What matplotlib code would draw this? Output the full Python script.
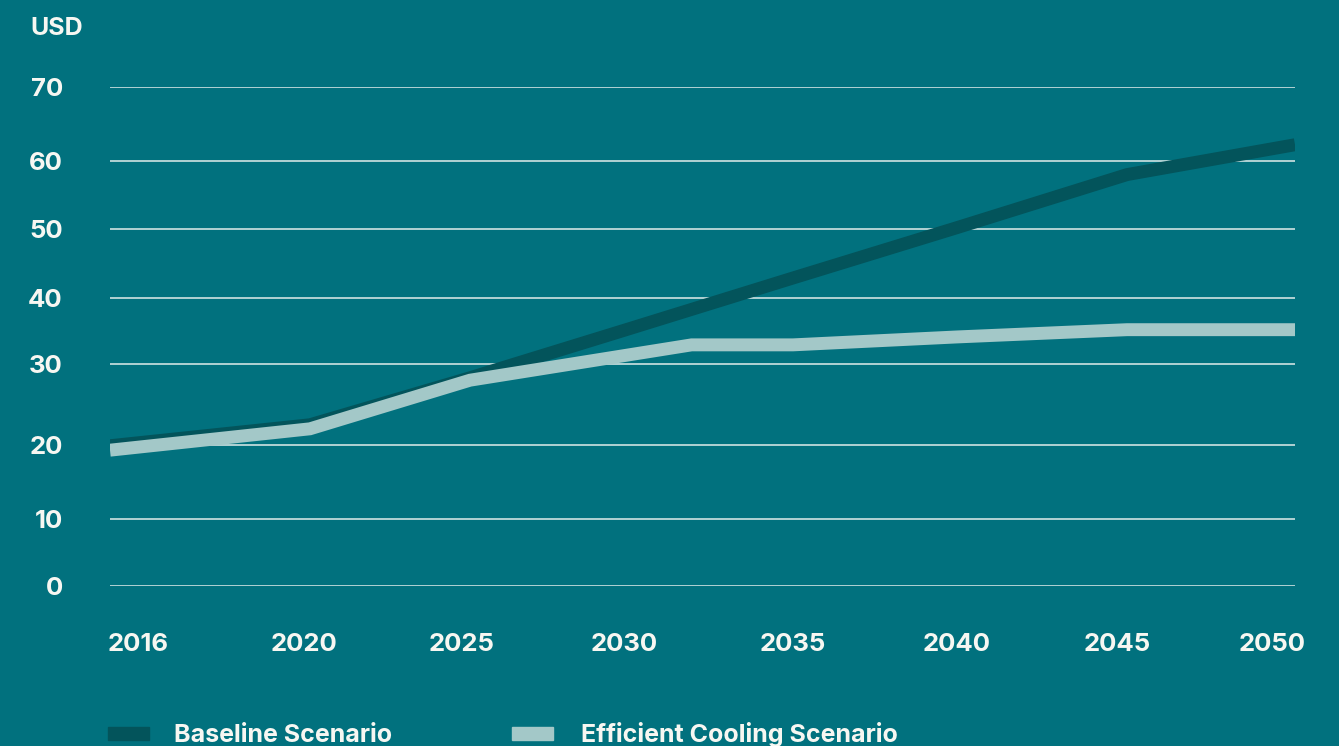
import matplotlib.pyplot as plt
import matplotlib.transforms as mtransforms
import numpy as np
from matplotlib.patches import Rectangle

# Data
tick_years = [2016, 2020, 2025, 2030, 2035, 2040, 2045, 2050]
tick_labels = [str(y) for y in tick_years]
usd_ticks = [0, 10, 20, 30, 40, 50, 60, 70]

baseline_years = [2016, 2020, 2025, 2030, 2035, 2040, 2045, 2050]
baseline_usd = [19.9, 22.5, 28.3, 35.1, 42.9, 50.2, 58.0, 62.2]

efficient_years = [2016, 2020, 2025, 2032, 2035, 2040, 2045, 2050]
efficient_usd = [19.3, 22.0, 28.0, 32.9, 32.9, 34.1, 35.2, 35.2]

series_names = ['Baseline Scenario', 'Efficient Cooling Scenario']

# Colours
BG = '#01717e'
DARK = '#03545b'
LIGHT = '#a3c8c8'
GRID = '#cfe2e2'
TXT = '#f7f7f2'

# the original axes are not evenly spaced, so warp them to match
x_knots_px = [0, 200, 360, 514, 683, 847, 1017, 1185]
y_knots_px = [0, 67, 141, 222, 288, 357, 425, 499]
# small nudges (px) so the year labels sit where the original has them
x_label_nudge = [-2, -6, -8, 0, 0, 0, -10, 11]


def warp(src, dst):
    src = np.asarray(src, float)
    dst = np.asarray(dst, float)
    s0 = (dst[1] - dst[0]) / (src[1] - src[0])
    s1 = (dst[-1] - dst[-2]) / (src[-1] - src[-2])

    def f(v):
        v = np.asarray(v, float)
        out = np.interp(v, src, dst)
        out = np.where(v < src[0], dst[0] + (v - src[0]) * s0, out)
        out = np.where(v > src[-1], dst[-1] + (v - src[-1]) * s1, out)
        return out
    return f


W, H = 1339, 746
plt.rcParams['font.family'] = ['Inter', 'DejaVu Sans']
plt.rcParams['font.weight'] = 'bold'

fig = plt.figure(figsize=(W / 100, H / 100), dpi=100, facecolor=BG)
ax = fig.add_axes([110 / W, (H - 586) / H, (1295 - 110) / W, (586 - 87) / H])
ax.set_facecolor(BG)

ax.set_xscale('function', functions=(warp(tick_years, x_knots_px),
                                     warp(x_knots_px, tick_years)))
ax.set_yscale('function', functions=(warp(usd_ticks, y_knots_px),
                                     warp(y_knots_px, usd_ticks)))

ax.plot(baseline_years, baseline_usd, color=DARK, lw=9.3,
        solid_capstyle='butt', solid_joinstyle='miter', zorder=3)
ax.plot(efficient_years, efficient_usd, color=LIGHT, lw=9.3,
        solid_capstyle='butt', solid_joinstyle='miter', zorder=4)

ax.set_xlim(2016, 2050)
ax.set_ylim(0, 70)
ax.set_xticks(tick_years)
ax.set_xticklabels(tick_labels)
ax.set_yticks(usd_ticks)
ax.set_yticklabels([str(v) for v in usd_ticks])
ax.xaxis.set_minor_locator(plt.NullLocator())
ax.yaxis.set_minor_locator(plt.NullLocator())

ax.tick_params(axis='both', length=0, colors=TXT, labelsize=18.5)
ax.tick_params(axis='y', pad=34)
ax.tick_params(axis='x', pad=34)

xl = ax.get_xticklabels()
xl[0].set_ha('left')
xl[-1].set_ha('right')
for lab, dx in zip(xl, x_label_nudge):
    lab.set_transform(lab.get_transform() +
                      mtransforms.ScaledTranslation(dx / 100, 0, fig.dpi_scale_trans))

for s in ax.spines.values():
    s.set_visible(False)
ax.yaxis.grid(True, color=GRID, lw=1.2)
ax.set_axisbelow(True)

fig.text(30 / W, (H - 35) / H, 'USD', color=TXT, fontsize=18,
         va='baseline', ha='left')

# legend
legend_x = [108, 512]
legend_text_x = [174, 581]
legend_colors = [DARK, LIGHT]
for x0, tx, c, name in zip(legend_x, legend_text_x, legend_colors, series_names):
    fig.add_artist(Rectangle((x0 / W, (H - 740) / H), 41 / W, 13 / H,
                             transform=fig.transFigure, color=c))
    fig.text(tx / W, (H - 742) / H, name, color=TXT, fontsize=18,
             va='baseline', ha='left')

fig.savefig('out.png', dpi=100, facecolor=BG)
